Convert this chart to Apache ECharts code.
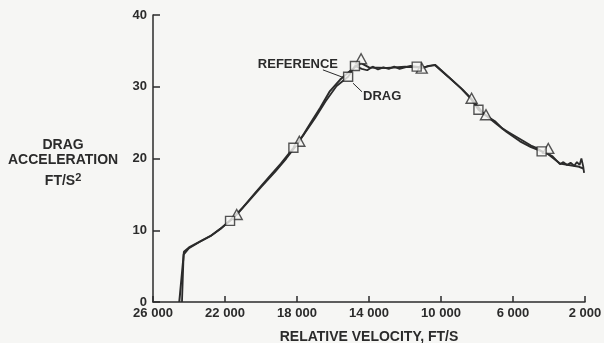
<!DOCTYPE html>
<html>
<head>
<meta charset="utf-8">
<script src="https://cdn.jsdelivr.net/npm/echarts@6/dist/echarts.min.js"></script>
<style>
  html, body { margin: 0; padding: 0; background: #f6f6f4; }
  #chart { width: 604px; height: 343px; }
</style>
</head>
<body>
<div id="chart"></div>
<script>
// Relative velocity (ft/s) and drag acceleration (ft/s^2) along the entry trajectory
var refVelocity = [24540, 24280, 24000, 23400, 22800, 22200, 21350, 20600, 20000, 19200, 18600, 17870, 17280, 16700, 16170, 15600, 15100, 14700, 14440, 14000, 13000, 12000, 11000, 10330, 9500, 8800, 8300, 7650, 7000, 6350, 5610, 5000, 4400, 4040, 3390, 2900, 2400, 2090];
var refAccel    = [0, 7.0, 7.6, 8.4, 9.2, 10.3, 12.2, 14.3, 16.0, 18.2, 20.0, 22.4, 24.8, 27.1, 29.4, 31.0, 32.1, 32.9, 33.3, 32.7, 32.6, 32.8, 32.7, 33.05, 31.2, 29.6, 28.3, 26.3, 25.0, 23.7, 22.4, 21.6, 21.0, 20.6, 19.3, 19.1, 18.9, 18.6];

var dragVelocity = [24390, 24300, 24000, 23400, 22800, 22200, 21720, 21000, 20300, 19600, 18900, 18200, 17600, 17000, 16400, 15800, 15160, 14780, 14400, 14100, 13800, 13500, 13200, 12900, 12600, 12300, 12000, 11700, 11350, 11000, 10700, 10330, 9600, 8900, 8400, 7920, 7500, 7000, 6600, 6200, 5800, 5400, 5000, 4700, 4410, 4100, 3800, 3390, 3200, 3000, 2800, 2600, 2450, 2300, 2200, 2100, 2050];
var dragAccel    = [0, 6.6, 7.5, 8.4, 9.2, 10.3, 11.3, 13.2, 15.3, 17.3, 19.3, 21.5, 23.4, 25.6, 28.0, 30.1, 31.4, 32.9, 32.5, 32.3, 32.8, 32.4, 32.7, 32.5, 32.8, 32.5, 32.7, 32.9, 32.8, 32.6, 32.9, 33.0, 31.4, 29.8, 28.5, 26.8, 26.0, 25.2, 24.2, 23.6, 23.0, 22.4, 21.8, 21.5, 21.0, 20.7, 20.3, 19.2, 19.5, 19.1, 19.4, 19.0, 19.5, 19.1, 20.0, 18.9, 18.0];

// Sample markers: triangles on the reference profile, squares on the drag profile
var refMarkVelocity  = [21350, 17870, 14440, 11070, 8300, 7500, 4040];
var refMarkAccel     = [12.2, 22.4, 33.9, 32.6, 28.4, 26.1, 21.4];
var dragMarkVelocity = [21720, 18200, 15160, 14780, 11350, 7920, 4410];
var dragMarkAccel    = [11.3, 21.5, 31.4, 32.9, 32.8, 26.8, 21.0];

var xTicks = [26000, 22000, 18000, 14000, 10000, 6000, 2000];
var yTicks = [0, 10, 20, 30, 40];

function zip(a, b) { return a.map(function (v, i) { return [v, b[i]]; }); }

var ink = '#2b2b2b';
var bg = '#f6f6f4';
var font = '"Liberation Sans", Arial, sans-serif';

var chart = echarts.init(document.getElementById('chart'), null, { renderer: 'canvas' });

chart.setOption({
  backgroundColor: bg,
  animation: false,
  grid: { left: 153, right: 19, top: 15, bottom: 41, containLabel: false, outerBoundsMode: 'none' },
  xAxis: {
    type: 'value',
    inverse: true,
    min: xTicks[xTicks.length - 1],
    max: xTicks[0],
    interval: 4000,
    splitLine: { show: false },
    axisLine: { lineStyle: { color: ink, width: 1.5 } },
    axisTick: { inside: true, length: 6, lineStyle: { color: ink, width: 1.5 } },
    axisLabel: {
      color: ink, fontFamily: font, fontWeight: 'bold', fontSize: 13, margin: 5,
      formatter: function (v) { return v >= 1000 ? Math.floor(v / 1000) + ' ' + String(v % 1000).padStart(3, '0') : String(v); }
    },
    name: 'RELATIVE VELOCITY, FT/S',
    nameLocation: 'middle',
    nameGap: 28,
    nameTextStyle: { color: ink, fontFamily: font, fontWeight: 'bold', fontSize: 14 }
  },
  yAxis: {
    type: 'value',
    min: yTicks[0],
    max: yTicks[yTicks.length - 1],
    interval: 10,
    splitLine: { show: false },
    axisLine: { show: true, lineStyle: { color: ink, width: 1.5 } },
    axisTick: { show: true, inside: true, length: 7, lineStyle: { color: ink, width: 1.5 } },
    axisLabel: { color: ink, fontFamily: font, fontWeight: 'bold', fontSize: 13, margin: 6 }
  },
  graphic: [{
    type: 'text',
    left: 8,
    top: 138,
    style: {
      text: '{c|DRAG}\n{c|ACCELERATION}\n{d|FT/S}{s|2}',
      textAlign: 'center',
      x: 57,
      fill: ink,
      rich: {
        c: { fontFamily: font, fontWeight: 'bold', fontSize: 14, lineHeight: 15, fill: ink },
        d: { fontFamily: font, fontWeight: 'bold', fontSize: 14, lineHeight: 28, fill: ink },
        s: { fontFamily: font, fontWeight: 'bold', fontSize: 11, lineHeight: 28, padding: [0, 0, 8, 0], fill: ink }
      }
    }
  }],
  series: [
    {
      name: 'Reference',
      type: 'line',
      data: zip(refVelocity, refAccel),
      showSymbol: false,
      lineStyle: { color: ink, width: 2 },
      z: 3,
      markLine: {
        silent: true,
        symbol: 'none',
        lineStyle: { color: ink, width: 1, type: 'solid' },
        label: { show: false },
        data: [
          [{ coord: [16560, 32.35] }, { coord: [15330, 31.2] }],
          [{ coord: [14890, 30.5] }, { coord: [14390, 29.3] }]
        ]
      },
      markPoint: {
        silent: true,
        symbol: 'circle',
        symbolSize: 0,
        label: { color: ink, fontFamily: font, fontWeight: 'bold', fontSize: 13 },
        data: [
          { coord: [15720, 33.1], label: { formatter: 'REFERENCE', position: 'left', distance: 0 } },
          { coord: [14330, 28.7], label: { formatter: 'DRAG', position: 'right', distance: 0 } }
        ]
      }
    },
    {
      name: 'Drag',
      type: 'line',
      data: zip(dragVelocity, dragAccel),
      showSymbol: false,
      lineStyle: { color: ink, width: 1.8 },
      z: 3
    },
    {
      name: 'Reference samples',
      type: 'scatter',
      data: zip(refMarkVelocity, refMarkAccel),
      symbol: 'triangle',
      symbolSize: [11, 10],
      itemStyle: { color: bg, borderColor: ink, borderWidth: 1.4 },
      z: 4
    },
    {
      name: 'Drag samples',
      type: 'scatter',
      data: zip(dragMarkVelocity, dragMarkAccel),
      symbol: 'rect',
      symbolSize: 9,
      itemStyle: { color: bg, borderColor: ink, borderWidth: 1.4 },
      z: 5
    }
  ]
});
</script>
</body>
</html>
